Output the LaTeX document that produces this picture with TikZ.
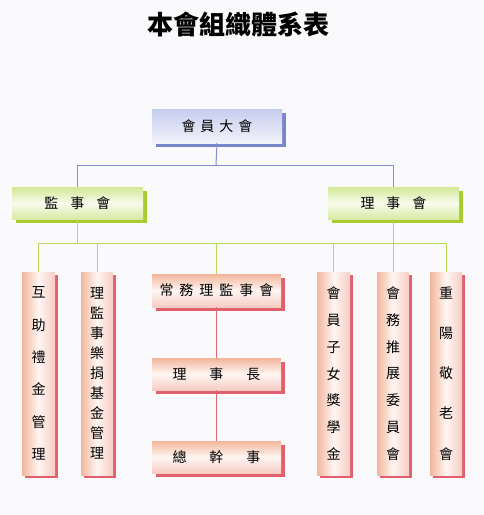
\documentclass[tikz,border=0pt]{standalone}
\usepackage{fontspec}
\newfontfamily\cjk{Noto Sans CJK TC}
\usetikzlibrary{shadows}

\definecolor{bgcol}{RGB}{250,250,252}
\definecolor{bluetop}{RGB}{198,206,238}
\definecolor{bluebot}{RGB}{242,242,250}
\definecolor{blueshd}{RGB}{120,134,204}
\definecolor{greentop}{RGB}{210,232,150}
\definecolor{greenbot}{RGB}{216,234,164}
\definecolor{greenmid}{RGB}{248,251,236}
\definecolor{greenshd}{RGB}{168,204,48}
\definecolor{redtop}{RGB}{242,182,156}
\definecolor{redbot}{RGB}{246,204,196}
\definecolor{redmid}{RGB}{255,246,242}
\definecolor{redshd}{RGB}{226,96,110}
\definecolor{blueln}{RGB}{128,144,208}
\definecolor{greenln}{RGB}{184,216,88}
\definecolor{redln}{RGB}{224,104,116}

\begin{document}
\begin{tikzpicture}[x=1pt,y=-1pt,
  box/.style={inner sep=0pt,font=\cjk\fontsize{14}{14}\selectfont},
  topbox/.style={box,minimum width=130pt,minimum height=34pt,
    top color=bluetop,bottom color=bluebot,
    general shadow={fill=blueshd,shadow xshift=4pt,shadow yshift=-4pt}},
  midbox/.style={box,minimum width=131pt,minimum height=32pt,
    top color=greentop,bottom color=greenbot,middle color=greenmid,
    general shadow={fill=greenshd,shadow xshift=4pt,shadow yshift=-4pt}},
  rowbox/.style={box,minimum width=129pt,minimum height=33pt,
    top color=redtop,bottom color=redbot,middle color=redmid,
    general shadow={fill=redshd,shadow xshift=4pt,shadow yshift=-4pt}},
  colbox/.style={box,minimum width=33pt,minimum height=203pt,align=center,
    left color=redtop,right color=redbot,middle color=redmid,
    general shadow={fill=redshd,shadow xshift=3pt,shadow yshift=-3pt}},
  blueline/.style={draw=blueln,line width=1pt},
  greenline/.style={draw=greenln,line width=1pt},
  redline/.style={draw=redln,line width=1pt}]

  \fill[bgcol] (0,0) rectangle (484,515);

  \node[font=\cjk\bfseries\fontsize{26}{26}\selectfont] (title) at (238,25) {本會組織體系表};

  \node[topbox] (gm) at (217,126) {會\hspace{5pt}員\hspace{5pt}大\hspace{5pt}會};
  \node[midbox] (sup) at (77.5,203) {監\hspace{12pt}事\hspace{12pt}會};
  \node[midbox] (bd) at (393.5,203) {理\hspace{12pt}事\hspace{12pt}會};

  \node[rowbox] (sc) at (216.5,290.5) {常\hspace{6pt}務\hspace{6pt}理\hspace{6pt}監\hspace{6pt}事\hspace{6pt}會};
  \node[rowbox,minimum height=32pt] (pres) at (216.5,374) {理\hspace{23pt}事\hspace{23pt}長};
  \node[rowbox,minimum height=32pt] (sg) at (216.5,457) {總\hspace{23pt}幹\hspace{23pt}事};

  % vertical boxes
  \node[colbox,font=\cjk\fontsize{14}{32.4}\selectfont] (aid) at (38.5,373.5) {互\\助\\禮\\金\\管\\理};
  \node[colbox,minimum width=32pt,font=\cjk\fontsize{14}{20}\selectfont] (fund) at (97,373.5) {理\\監\\事\\樂\\捐\\基\\金\\管\\理};
  \node[colbox,font=\cjk\fontsize{14}{26.8}\selectfont] (schol) at (333.5,373.5) {會\\員\\子\\女\\獎\\學\\金};
  \node[colbox,minimum width=32pt,font=\cjk\fontsize{14}{26.8}\selectfont] (prom) at (393,373.5) {會\\務\\推\\展\\委\\員\\會};
  \node[colbox,minimum width=32pt,font=\cjk\fontsize{14}{40.2}\selectfont] (elder) at (446,373.5) {重\\陽\\敬\\老\\會};

  \coordinate (bus1) at (216,165);
  \coordinate (bus2) at (216,243);

  % connectors
  \draw[blueline] (gm.south) -- (bus1);
  \draw[blueline] (sup.north) -- (sup.north |- bus1) -- (bd.north |- bus1) -- (bd.north);

  \draw[greenline] (sup.south) -- (sup.south |- bus2);
  \draw[greenline] (bd.south) -- (bd.south |- bus2);
  \draw[greenline] (aid.north |- bus2) -- (elder.north |- bus2);
  \foreach \n in {aid,fund,sc,schol,prom,elder}
    \draw[greenline] (\n.north) -- (\n.north |- bus2);

  \draw[redline] (sc.south) -- (pres.north);
  \draw[redline] (pres.south) -- (sg.north);

\end{tikzpicture}
\end{document}
